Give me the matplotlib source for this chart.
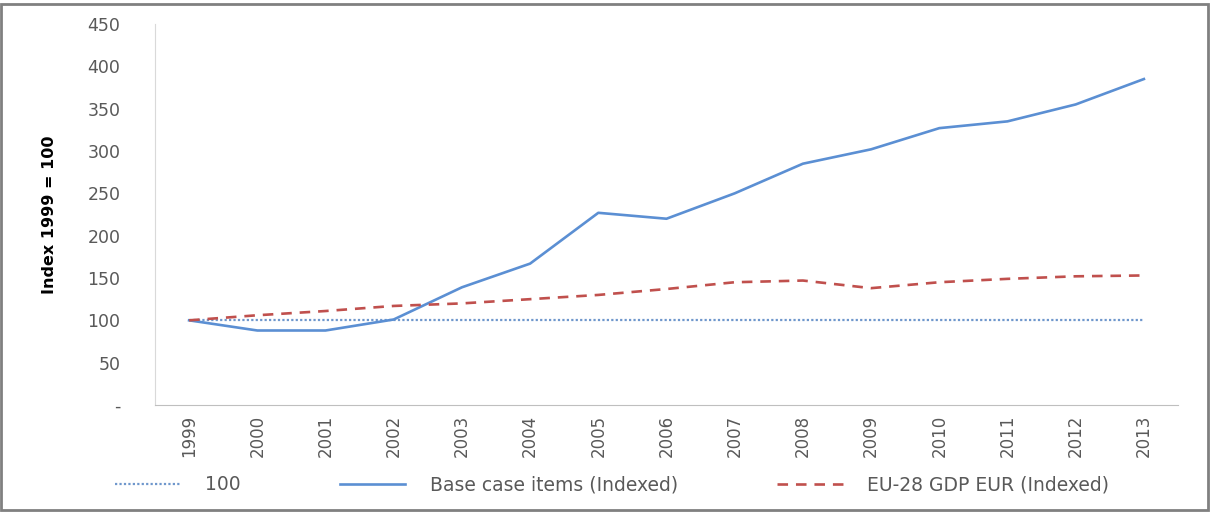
import matplotlib.pyplot as plt
from matplotlib.patches import Rectangle

years = [str(y) for y in range(1999, 2014)]
flat_100 = [100] * 15
base_case = [100, 88, 88, 101, 139, 167, 227, 220, 250, 285, 302, 327, 335, 355, 385]
eu_gdp = [100, 106, 111, 117, 120, 125, 130, 137, 145, 147, 138, 145, 149, 152, 153]

y_ticks = [0, 50, 100, 150, 200, 250, 300, 350, 400, 450]
y_tick_labels = ["-", "50", "100", "150", "200", "250", "300", "350", "400", "450"]

fig = plt.figure(figsize=(12.12, 5.12), dpi=100)
ax = fig.add_axes([155 / 1212, 1 - 405 / 512, (1178 - 155) / 1212, (405 - 24) / 512])

x = range(len(years))
ax.plot(x, flat_100, color="#6F97CC", linestyle=(0, (1, 1)), linewidth=1.6, label="100")
ax.plot(x, base_case, color="#5B8FD3", linewidth=1.9, label="Base case items (Indexed)")
ax.plot(x, eu_gdp, color="#C0504D", linestyle=(0, (4, 3)), linewidth=1.9, label="EU-28 GDP EUR (Indexed)")

ax.set_xlim(-0.5, len(years) - 0.5)
ax.set_ylim(0, 450)
ax.set_yticks(y_ticks)
ax.set_yticklabels(y_tick_labels)
ax.set_xticks(list(x))
ax.set_xticklabels(years, rotation=90)
ax.tick_params(axis="y", length=0, pad=25, labelsize=12.5, labelcolor="#595959")
ax.tick_params(axis="x", length=0, pad=7, labelsize=12, labelcolor="#595959")

for side in ["top", "right"]:
    ax.spines[side].set_visible(False)
ax.spines["left"].set_color("#D9D9D9")
ax.spines["bottom"].set_color("#BFBFBF")

ax.set_ylabel("Index 1999 = 100", fontsize=11.5, fontweight="bold", labelpad=22)

fig.legend(loc="center", bbox_to_anchor=(0.505, 1 - 485 / 512), ncol=3, frameon=False,
           fontsize=13.5, handlelength=3.5, handletextpad=1.3, columnspacing=5.3,
           labelcolor="#595959")

fig.patches.append(Rectangle((0.001, 0.003), 0.996, 0.99, transform=fig.transFigure,
                             fill=False, edgecolor="#808080", linewidth=2))

fig.savefig("out.png", dpi=100)
